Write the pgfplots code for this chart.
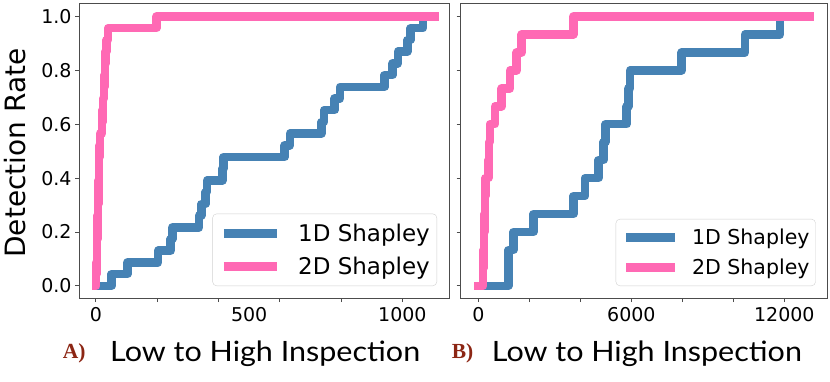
\documentclass[border=0pt]{standalone}
\usepackage{fontspec}
\setmainfont{DejaVu Sans}
\newfontfamily\latofont{Lato}
\newfontfamily\seriffont{Liberation Serif}
\usepackage{pgfplots}
\pgfplotsset{compat=1.18}
\definecolor{oneD}{HTML}{4682B4}
\definecolor{twoD}{HTML}{FF69B4}
\definecolor{panelred}{RGB}{140,38,20}

\pgfplotsset{
  shapley/.style={
    scale only axis,
    height=295pt,
    ymin=-0.045, ymax=1.05,
    ytick={0,0.2,0.4,0.6,0.8,1.0},
    axis line style={draw=black!70, line width=0.9pt},
    tick align=outside,
    major tick length=4pt,
    tick style={black!70, line width=0.8pt},
    xtick pos=bottom, ytick pos=left,
    scaled x ticks=false,
    tick label style={font=\fontsize{19}{19}\selectfont},
    xticklabel style={yshift=-6pt},
    /pgf/number format/assume math mode=true,
    yticklabel style={/pgf/number format/fixed, /pgf/number format/fixed zerofill,
      /pgf/number format/precision=1},
    extra x tick style={major tick length=0pt},
    legend cell align=left,
    legend style={at={(1,0)}, anchor=south east, xshift=-12pt, yshift=12pt,
      draw=black!18, rounded corners=4pt, fill=white,
      nodes={inner sep=0pt}},
    every axis plot/.append style={const plot, line width=8.5pt, line cap=rect, line join=round},
  }
}

\begin{document}
\begin{tikzpicture}
\useasboundingbox (0,0) rectangle (830pt,381pt);

% panel A
\begin{axis}[shapley,
  at={(79pt,83pt)}, anchor=south west, width=370pt,
  xmin=-55, xmax=1152,
  xtick={0,200,400,600,800,1000}, xticklabels={},
  extra x ticks={0,500,1000}, extra x tick labels={0,500,1000},
  legend style={font=\fontsize{23}{23}\selectfont, column sep=17pt, row sep=14pt,
    inner xsep=7pt, inner ysep=10pt},
  legend image code/.code={\draw[#1, line cap=butt] (0pt,0pt) -- (53pt,0pt);},
]
\addplot[oneD] coordinates {
  (0,0) (51,0.0435) (103,0.0870) (203,0.1304) (244,0.1739) (250,0.2174)
  (337,0.2609) (344,0.3043) (358,0.3478) (362,0.3913) (413,0.4348) (416,0.4783)
  (616,0.5217) (633,0.5652) (736,0.6087) (745,0.6522) (779,0.6957) (797,0.7391)
  (942,0.7826) (968,0.8261) (985,0.8696) (1016,0.9130) (1027,0.9565) (1067,1)
};
\addlegendentry{1D Shapley}
\addplot[twoD] coordinates {
  (0,0) (1,0.0435) (2,0.0870) (3,0.1304) (4,0.1739) (5,0.2174) (6,0.2609)
  (7,0.3043) (8,0.3478) (9,0.3913) (10,0.4348) (11,0.4783) (12,0.5217)
  (13,0.5652) (20,0.6087) (22,0.6522) (24,0.6957) (26,0.7391) (28,0.7826)
  (30,0.8261) (32,0.8696) (34,0.9130) (40,0.9565) (198,1) (1105,1)
};
\addlegendentry{2D Shapley}
\end{axis}

% panel B
\begin{axis}[shapley,
  at={(460.7pt,83pt)}, anchor=south west, width=367pt,
  xmin=-693, xmax=13700,
  xtick={0,2000,4000,6000,8000,10000,12000}, xticklabels={},
  extra x ticks={0,6000,12000}, extra x tick labels={0,6000,12000},
  yticklabels={},
  legend style={font=\fontsize{20.5}{20.5}\selectfont, column sep=12.7pt, row sep=12.5pt,
    inner xsep=6pt, inner ysep=10pt},
  legend image code/.code={\draw[#1, line cap=butt] (0pt,0pt) -- (49pt,0pt);},
]
\addplot[oneD] coordinates {
  (0,0) (1176,0.0667) (1180,0.1333) (1373,0.2) (2157,0.2667) (3725,0.3333)
  (4183,0.4) (4706,0.4667) (4902,0.5333) (4993,0.6) (5817,0.6667) (5880,0.7333)
  (5948,0.8) (7974,0.8667) (10458,0.9333) (11830,1)
};
\addlegendentry{1D Shapley}
\addplot[twoD] coordinates {
  (0,0) (190,0.0667) (205,0.1333) (220,0.2) (235,0.2667) (250,0.3333)
  (270,0.4) (390,0.4667) (420,0.5333) (450,0.6) (654,0.6667) (916,0.7333)
  (1242,0.8) (1503,0.8667) (1700,0.9333) (3726,1) (13000,1)
};
\addlegendentry{2D Shapley}
\end{axis}

% labels
\node[anchor=base, rotate=90, inner sep=0pt, font=\fontsize{28}{28}\selectfont]
  at (25pt,228pt) {Detection Rate};
\node[anchor=base west, inner sep=0pt, xscale=1.09, font=\latofont\fontsize{28}{28}\selectfont]
  at (110pt,19.3pt) {Low to High Inspection};
\node[anchor=base west, inner sep=0pt, text=panelred, font=\seriffont\bfseries\fontsize{21.5}{21.5}\selectfont]
  at (62.7pt,22.7pt) {A)};
\node[anchor=base west, inner sep=0pt, xscale=1.09, font=\latofont\fontsize{28}{28}\selectfont]
  at (491.7pt,19.3pt) {Low to High Inspection};
\node[anchor=base west, inner sep=0pt, text=panelred, font=\seriffont\bfseries\fontsize{21.5}{21.5}\selectfont]
  at (451.7pt,22.7pt) {B)};
\end{tikzpicture}
\end{document}
